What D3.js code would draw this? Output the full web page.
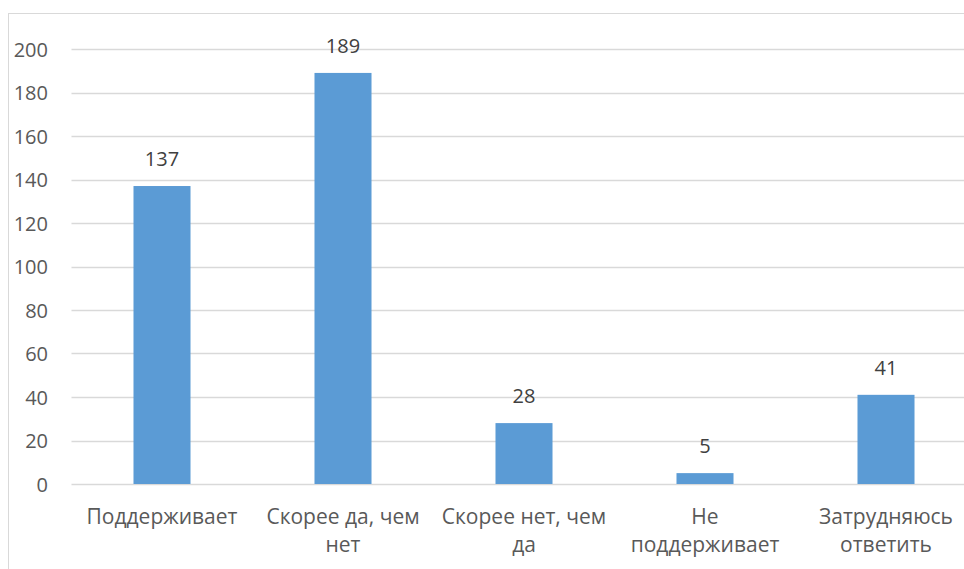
<!DOCTYPE html>
<html>
<head>
<meta charset="utf-8">
<script src="https://cdn.jsdelivr.net/npm/d3@7"></script>
<style>
  body { margin: 0; background: #fff; overflow: hidden; }
  svg { display: block; font-family: "Open Sans", "Noto Sans", sans-serif; }
</style>
</head>
<body>
<script>
// data
const categories = [["Поддерживает"], ["Скорее да, чем", "нет"], ["Скорее нет, чем", "да"], ["Не", "поддерживает"], ["Затрудняюсь", "ответить"]];
const values = [137, 189, 28, 5, 41];
const yTicks = [0, 20, 40, 60, 80, 100, 120, 140, 160, 180, 200];

const w = 964, h = 569;
const plotLeft = 71.5, plotRight = 976.5, plotTop = 49, plotBottom = 484;
const fontSize = "20px";

const svg = d3.select("body").append("svg")
  .attr("width", w)
  .attr("height", h);

// chart frame
svg.append("rect")
  .attr("x", 8.5).attr("y", 13.5)
  .attr("width", 1000).attr("height", 600)
  .attr("fill", "none").attr("stroke", "#d9d9d9");

const xScale = d3.scaleBand()
  .domain(d3.range(categories.length))
  .range([plotLeft, plotRight])
  .paddingInner(0.685).paddingOuter(0.3425);

const yScale = d3.scaleLinear()
  .domain([0, 200])
  .range([plotBottom, plotTop]);

// gridlines
svg.append("g")
  .selectAll("line")
  .data(yTicks)
  .enter()
  .append("line")
  .attr("x1", plotLeft).attr("x2", plotRight)
  .attr("y1", d => Math.round(yScale(d)) + 0.5)
  .attr("y2", d => Math.round(yScale(d)) + 0.5)
  .attr("stroke", "#d9d9d9").attr("stroke-width", 1.3);

// y axis labels
const yAxis = d3.axisLeft(yScale).tickValues(yTicks).tickSize(0).tickPadding(0);
const yg = svg.append("g")
  .attr("transform", "translate(48,0)")
  .call(yAxis);
yg.select(".domain").remove();
yg.selectAll("text")
  .attr("fill", "#595959")
  .attr("dy", "0.36em")
  .style("font-size", fontSize)
  .style("font-family", "'Open Sans', sans-serif");

// bars
svg.selectAll("rect.bar")
  .data(values)
  .enter()
  .append("rect")
  .attr("class", "bar")
  .attr("x", (d, i) => xScale(i))
  .attr("y", d => yScale(d))
  .attr("width", xScale.bandwidth())
  .attr("height", d => yScale(0) - yScale(d))
  .attr("fill", "#5b9bd5");

// value labels
svg.selectAll("text.val")
  .data(values)
  .enter()
  .append("text")
  .attr("class", "val")
  .attr("x", (d, i) => xScale(i) + xScale.bandwidth() / 2)
  .attr("y", d => yScale(d) - 20)
  .attr("text-anchor", "middle")
  .attr("fill", "#404040")
  .style("font-size", fontSize)
  .text(d => d);

// category labels
const cats = svg.selectAll("text.cat")
  .data(categories)
  .enter()
  .append("text")
  .attr("class", "cat")
  .attr("x", (d, i) => xScale(i) + xScale.bandwidth() / 2)
  .attr("y", 524)
  .attr("text-anchor", "middle")
  .attr("fill", "#595959")
  .style("font-size", "21px");

cats.selectAll("tspan")
  .data(d => d)
  .enter()
  .append("tspan")
  .attr("x", function () { return d3.select(this.parentNode).attr("x"); })
  .attr("dy", (d, i) => i === 0 ? 0 : 28)
  .text(d => d);
</script>
</body>
</html>
